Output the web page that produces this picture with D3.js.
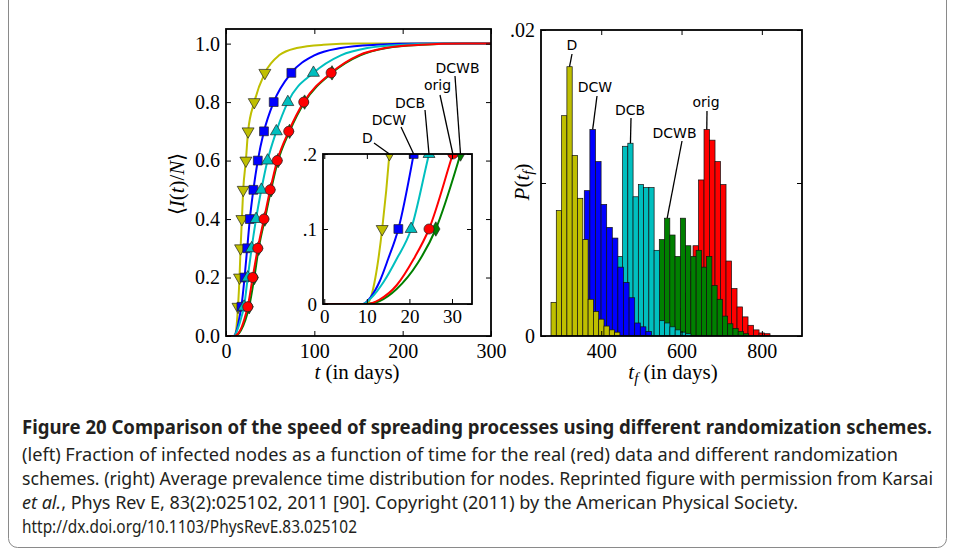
<!DOCTYPE html>
<html>
<head>
<meta charset="utf-8">
<title>Spreading speed with randomization schemes</title>
<script src="https://d3js.org/d3.v7.min.js"></script>
<style>
  body { margin: 0; background: #fff; }
  .cap { font-family: "Noto Sans", "Open Sans", sans-serif; fill: #231f20; }
  .lbl { font-family: "DejaVu Sans", sans-serif; font-size: 14px; fill: #000; }
  .ax { font-family: "Liberation Serif", serif; font-size: 21px; fill: #000; }
</style>
</head>
<body>
<div id="chart"></div>
<script>
// ---- left panel: fraction of infected nodes <I(t)/N> vs t (days)
const markLevels = [0.1, 0.2, 0.3, 0.4, 0.5, 0.6, 0.7, 0.8, 0.9];

const curveT_D = [0, 10, 11, 12, 13.6, 15.3, 16.5, 18, 19.5, 22.5, 25, 32, 44, 60, 80, 110, 150, 300];
const curveV_D = [0, 0, 0.01, 0.035, 0.1, 0.2, 0.3, 0.4, 0.5, 0.6, 0.7, 0.8, 0.9, 0.96, 0.985, 0.996, 1, 1];
const markT_D = [13.6, 15.3, 16.5, 18, 19.5, 22.5, 25, 32, 44];

const curveT_DCW = [0, 9, 11, 13, 15, 17.4, 21, 24, 27, 31, 36, 43, 54, 74, 100, 130, 170, 220, 300];
const curveV_DCW = [0, 0, 0.01, 0.03, 0.06, 0.1, 0.2, 0.3, 0.4, 0.5, 0.6, 0.7, 0.8, 0.9, 0.96, 0.985, 0.996, 1, 1];
const markT_DCW = [17.4, 21, 24, 27, 31, 36, 43, 54, 74];

const curveT_DCB = [0, 9, 11, 14, 17, 20.4, 24.6, 29, 34, 40, 47, 57, 70, 99, 130, 160, 200, 250, 300];
const curveV_DCB = [0, 0, 0.008, 0.03, 0.06, 0.1, 0.2, 0.3, 0.4, 0.5, 0.6, 0.7, 0.8, 0.9, 0.96, 0.985, 0.996, 1, 1];
const markT_DCB = [20.4, 24.6, 29, 34, 40, 47, 57, 70, 99];

const curveT_DCWB = [0, 10, 13, 17, 22, 26.2, 32, 37, 44, 51, 59, 72, 89, 120, 152, 182, 222, 272, 300];
const curveV_DCWB = [0, 0, 0.004, 0.02, 0.055, 0.1, 0.2, 0.3, 0.4, 0.5, 0.6, 0.7, 0.8, 0.9, 0.96, 0.985, 0.996, 1, 1];
const markT_DCWB = [26.2, 32, 37, 44, 51, 59, 72, 89, 120];

const curveT_orig = [0, 10, 13, 17, 21, 24.6, 30.2, 36, 43, 50, 58, 71, 88, 119, 150, 180, 220, 270, 300];
const curveV_orig = [0, 0, 0.006, 0.025, 0.06, 0.1, 0.2, 0.3, 0.4, 0.5, 0.6, 0.7, 0.8, 0.9, 0.96, 0.985, 0.996, 1, 1];
const markT_orig = [24.6, 30.2, 36, 43, 50, 58, 71, 88, 119];

const mainXTicks = [0, 100, 200, 300];
const mainYTicks = [0, 0.2, 0.4, 0.6, 0.8, 1.0];
const insetXTicks = [0, 10, 20, 30];
const insetYTicks = [0, 0.1, 0.2];
const insetYLabels = ['0', '.1', '.2'];

// ---- right panel: histograms of prevalence time t_f (days)
const histStart_D = 274.9, histWidth_D = 13.2;
const histP_D = [0.0022, 0.0082, 0.0144, 0.0176, 0.0118, 0.0090, 0.0063, 0.0024, 0.0016, 0.0011, 0.00065, 0.0004, 0.00025];
const histStart_DCW = 357.8, histWidth_DCW = 13.95;
const histP_DCW = [0.0095, 0.0135, 0.0114, 0.0086, 0.0071, 0.0064, 0.0045, 0.0035, 0.0025, 0.00085, 0.0006, 0.0003];
const histStart_DCB = 440, histWidth_DCB = 13.1;
const histP_DCB = [0.0052, 0.0124, 0.0126, 0.0091, 0.0099, 0.0097, 0.0097, 0.0056, 0.0010, 0.00085, 0.0006, 0.0004, 0.00025, 0.00015];
const histStart_DCWB = 544.6, histWidth_DCWB = 13.1;
const histP_DCWB = [0.0063, 0.0077, 0.0066, 0.0052, 0.0077, 0.0059, 0.0052, 0.0056, 0.0045, 0.0052, 0.0033, 0.0024, 0.0013, 0.0008, 0.0005, 0.0003, 0.00015];
const histStart_orig = 560.1, histWidth_orig = 13.7;
const histP_orig = [0.0004, 0.001, 0.0018, 0.0028, 0.0042, 0.0059, 0.0102, 0.0135, 0.0128, 0.0114, 0.0099, 0.0049, 0.0031, 0.0019, 0.00125, 0.0007, 0.0004, 0.0002, 0.00015];

const histXTicks = [400, 600, 800];
const histYTicks = [0, 0.01, 0.02];
const histYLabels = ['0', '', '.02'];

const captionLines = [
  'Figure 20  Comparison of the speed of spreading processes using different randomization schemes.',
  '(left) Fraction of infected nodes as a function of time for the real (red) data and different randomization',
  'schemes. (right) Average prevalence time distribution for nodes. Reprinted figure with permission from Karsai',
  ', Phys Rev E, 83(2):025102, 2011 [90]. Copyright (2011) by the American Physical Society.',
  'http://dx.doi.org/10.1103/PhysRevE.83.025102'
];

const zip = (a, b) => a.map((t, i) => [t, b[i]]);
const series = [
  {name: 'D', color: '#bfbf00', sym: d3.symbolTriangle, rot: 180, size: 62,
   curve: zip(curveT_D, curveV_D), marks: zip(markT_D, markLevels),
   hs: histStart_D, hw: histWidth_D, hp: histP_D},
  {name: 'DCW', color: '#0000ff', sym: d3.symbolSquare, rot: 0, size: 78,
   curve: zip(curveT_DCW, curveV_DCW), marks: zip(markT_DCW, markLevels),
   hs: histStart_DCW, hw: histWidth_DCW, hp: histP_DCW},
  {name: 'DCB', color: '#00bfbf', sym: d3.symbolTriangle, rot: 0, size: 62,
   curve: zip(curveT_DCB, curveV_DCB), marks: zip(markT_DCB, markLevels),
   hs: histStart_DCB, hw: histWidth_DCB, hp: histP_DCB},
  {name: 'DCWB', color: '#008000', sym: d3.symbolDiamond, rot: 0, size: 60,
   curve: zip(curveT_DCWB, curveV_DCWB), marks: zip(markT_DCWB, markLevels),
   hs: histStart_DCWB, hw: histWidth_DCWB, hp: histP_DCWB},
  {name: 'orig', color: '#ff0000', sym: d3.symbolCircle, rot: 0, size: 80,
   curve: zip(curveT_orig, curveV_orig), marks: zip(markT_orig, markLevels),
   hs: histStart_orig, hw: histWidth_orig, hp: histP_orig}
];
const byName = Object.fromEntries(series.map(s => [s.name, s]));
// curves: red drawn last; histograms: yellow drawn last
const curveOrder = ['DCWB', 'D', 'DCW', 'DCB', 'orig'];
const histOrder = ['orig', 'DCWB', 'DCB', 'DCW', 'D'];

const svg = d3.select('#chart').append('svg')
  .attr('width', 955).attr('height', 557);
svg.append('rect').attr('width', 955).attr('height', 557).attr('fill', '#fff');
svg.append('rect')
  .attr('x', 8.5).attr('y', -20).attr('width', 938).attr('height', 567.5).attr('rx', 9)
  .attr('fill', 'none').attr('stroke', '#8a8a8a');

const xL = d3.scaleLinear([0, 300], [226, 491]);
const yL = d3.scaleLinear([0, 1.05], [336, 29]);
const xI = d3.scaleLinear([-0.3, 34.7], [323, 472]);
const yI = d3.scaleLinear([0, 0.2], [304, 154]);
const xR = d3.scaleLinear([250, 900], [541, 802]);
const yR = d3.scaleLinear([0, 0.02], [336, 30]);

const defs = svg.append('defs');
function clip(id, x, y) {
  defs.append('clipPath').attr('id', id).append('rect')
    .attr('x', x.range()[0]).attr('y', y.range()[1])
    .attr('width', x.range()[1] - x.range()[0]).attr('height', y.range()[0] - y.range()[1]);
  return `url(#${id})`;
}

function axes(g, x, y, o) {
  const fs = o.fs || 20;
  const style = sel => {
    sel.select('.domain').remove();
    sel.selectAll('line').attr('stroke', '#000').attr('stroke-width', 1);
    sel.selectAll('text').attr('font-family', '"Liberation Serif", serif').attr('font-size', fs).attr('fill', '#000');
  };
  g.append('g').attr('transform', `translate(0,${y.range()[0]})`)
    .call(d3.axisBottom(x).tickValues(o.xt).tickFormat(o.xf).tickSizeInner(-5).tickSizeOuter(0).tickPadding(o.xpad || 8)).call(style);
  g.append('g').attr('transform', `translate(0,${y.range()[1]})`)
    .call(d3.axisTop(x).tickValues(o.xt).tickFormat('').tickSizeInner(-5).tickSizeOuter(0)).call(style);
  g.append('g').attr('transform', `translate(${x.range()[0]},0)`)
    .call(d3.axisLeft(y).tickValues(o.yt).tickFormat(o.yf).tickSizeInner(-5).tickSizeOuter(0).tickPadding(6)).call(style);
  g.append('g').attr('transform', `translate(${x.range()[1]},0)`)
    .call(d3.axisRight(y).tickValues(o.yt).tickFormat('').tickSizeInner(-5).tickSizeOuter(0)).call(style);
  g.append('rect')
    .attr('x', x.range()[0]).attr('y', y.range()[1])
    .attr('width', x.range()[1] - x.range()[0]).attr('height', y.range()[0] - y.range()[1])
    .attr('fill', 'none').attr('stroke', '#000').attr('stroke-width', 1.8);
}

function drawCurves(g, x, y, clipUrl) {
  const pg = g.append('g').attr('clip-path', clipUrl);
  const line = d3.line().x(d => x(d[0])).y(d => y(d[1])).curve(d3.curveMonotoneX);
  curveOrder.forEach(n => {
    const s = byName[n];
    pg.append('path').attr('d', line(s.curve))
      .attr('fill', 'none').attr('stroke', s.color).attr('stroke-width', 2);
    pg.selectAll(null).data(s.marks).join('path')
      .attr('d', d3.symbol(s.sym, s.size)())
      .attr('transform', d => `translate(${x(d[0])},${y(d[1])}) rotate(${s.rot})`)
      .attr('fill', s.color).attr('stroke', '#222').attr('stroke-width', 0.7);
  });
}

// ---- left main panel
const gL = svg.append('g');
drawCurves(gL, xL, yL, clip('clipL', xL, yL));
axes(gL, xL, yL, {xt: mainXTicks, xf: d3.format('d'), yt: mainYTicks, yf: d3.format('.1f')});

// ---- inset
const gI = svg.append('g');
gI.append('rect').attr('x', xI.range()[0]).attr('y', yI.range()[1])
  .attr('width', xI.range()[1] - xI.range()[0]).attr('height', yI.range()[0] - yI.range()[1])
  .attr('fill', '#fff');
drawCurves(gI, xI, yI, clip('clipI', xI, yI));
axes(gI, xI, yI, {xt: insetXTicks, xf: d3.format('d'), yt: insetYTicks,
  yf: (d, i) => insetYLabels[i], fs: 19, xpad: 6});

// inset labels: leader lines end where each curve crosses 0.2
const insetLabels = [
  {n: 'D', tx: 367.5, ty: 143, lx: 374, ly: 143},
  {n: 'DCW', tx: 389, ty: 125, lx: 401, ly: 127},
  {n: 'DCB', tx: 410, ty: 108, lx: 425, ly: 110},
  {n: 'orig', tx: 437.5, ty: 90, lx: 440, ly: 95},
  {n: 'DCWB', tx: 457.5, ty: 73, lx: 455, ly: 76}
];
insetLabels.forEach(l => {
  const s = byName[l.n];
  const t02 = s.marks[1][0];
  gI.append('line').attr('x1', l.lx).attr('y1', l.ly)
    .attr('x2', xI(t02)).attr('y2', yI(s.marks[1][1]))
    .attr('stroke', '#000').attr('stroke-width', 1.3);
  gI.append('text').attr('class', 'lbl').attr('x', l.tx).attr('y', l.ty)
    .attr('text-anchor', 'middle').text(l.n);
});

// ---- right panel histograms
const gR = svg.append('g');
const barsG = gR.append('g').attr('clip-path', clip('clipR', xR, yR));
histOrder.forEach(n => {
  const s = byName[n];
  barsG.selectAll(null).data(s.hp).join('rect')
    .attr('x', (d, i) => xR(s.hs + i * s.hw))
    .attr('width', (d, i) => xR(s.hs + (i + 1) * s.hw) - xR(s.hs + i * s.hw))
    .attr('y', d => yR(d))
    .attr('height', d => yR(0) - yR(d))
    .attr('fill', s.color).attr('stroke', '#111').attr('stroke-width', 0.7);
});
axes(gR, xR, yR, {xt: histXTicks, xf: d3.format('d'), yt: histYTicks,
  yf: (d, i) => histYLabels[i]});

const histLabels = [
  {n: 'D', tx: 572, ty: 50, lx: 572, ly: 54},
  {n: 'DCW', tx: 595, ty: 92, lx: 597, ly: 96},
  {n: 'DCB', tx: 630, ty: 115, lx: 631, ly: 118},
  {n: 'DCWB', tx: 674.5, ty: 138, lx: 682, ly: 141},
  {n: 'orig', tx: 706, ty: 107, lx: 707, ly: 111}
];
histLabels.forEach(l => {
  const s = byName[l.n];
  const k = d3.maxIndex(s.hp);
  const cx = xR(s.hs + (k + 0.5) * s.hw);
  gR.append('line').attr('x1', l.lx).attr('y1', l.ly)
    .attr('x2', cx).attr('y2', yR(s.hp[k]))
    .attr('stroke', '#000').attr('stroke-width', 1.3);
  gR.append('text').attr('class', 'lbl').attr('x', l.tx).attr('y', l.ty)
    .attr('text-anchor', 'middle').text(l.n);
});

// ---- axis titles
const tL = svg.append('text').attr('class', 'ax').attr('text-anchor', 'middle')
  .attr('transform', 'translate(184,184) rotate(-90)');
tL.append('tspan').text('\u27E8');
tL.append('tspan').attr('font-style', 'italic').text('I');
tL.append('tspan').text('(');
tL.append('tspan').attr('font-style', 'italic').text('t');
tL.append('tspan').text(')/');
tL.append('tspan').attr('font-style', 'italic').text('N');
tL.append('tspan').text('\u27E9');

const xLt = svg.append('text').attr('class', 'ax').attr('text-anchor', 'middle')
  .attr('x', 357).attr('y', 379);
xLt.append('tspan').attr('font-style', 'italic').text('t');
xLt.append('tspan').text(' (in days)');

const tR = svg.append('text').attr('class', 'ax').attr('text-anchor', 'middle')
  .attr('transform', 'translate(529,182) rotate(-90)');
tR.append('tspan').attr('font-style', 'italic').text('P');
tR.append('tspan').text('(');
tR.append('tspan').attr('font-style', 'italic').text('t');
tR.append('tspan').attr('font-style', 'italic').attr('font-size', 15).attr('dy', 4).text('f');
tR.append('tspan').attr('dy', -4).text(')');

const xRt = svg.append('text').attr('class', 'ax').attr('text-anchor', 'middle')
  .attr('x', 673).attr('y', 379);
xRt.append('tspan').attr('font-style', 'italic').text('t');
xRt.append('tspan').attr('font-style', 'italic').attr('font-size', 15).attr('dy', 4).text('f');
xRt.append('tspan').attr('dy', -4).text(' (in days)');

// ---- caption
const capY = [434, 461, 485, 509, 533];
const capW = [910, 876, 911, 776, 335];
captionLines.forEach((c, i) => {
  const t = svg.append('text').attr('class', 'cap')
    .attr('x', 22).attr('y', capY[i])
    .attr('font-size', i === 0 ? 19 : 18)
    .attr('font-weight', i === 0 ? 700 : 400)
    .attr('textLength', capW[i]).attr('lengthAdjust', 'spacingAndGlyphs');
  if (i === 3) t.append('tspan').attr('font-style', 'italic').text('et al.');
  t.append('tspan').text(c);
});
</script>
</body>
</html>
